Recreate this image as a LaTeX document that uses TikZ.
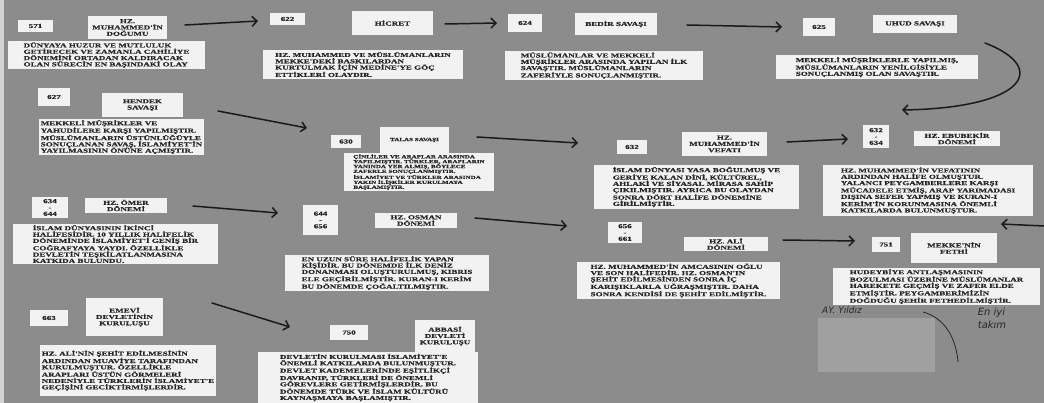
\documentclass[tikz,border=0pt]{standalone}
\usepackage{fontspec}
\usetikzlibrary{arrows.meta}
\newfontfamily\pf[FakeStretch=1.5,FakeBold=0.6]{Liberation Serif}
\newfontfamily\hand{DejaVu Sans}
\definecolor{bg}{HTML}{8C8C8C}
\definecolor{paper}{HTML}{F2F2F2}
\definecolor{ink}{HTML}{262626}
\definecolor{arrowc}{HTML}{1A1A1A}
\definecolor{patch}{HTML}{A0A0A0}
\newcommand\slipbox[7]{%
  \pgfmathsetmacro\slcx{(#3+#5)/2}%
  \pgfmathsetmacro\slcy{(#4+#6)/2}%
  \pgfmathsetmacro\slw{#5-#3}%
  \pgfmathsetmacro\slh{#6-#4}%
  \node[slip,#2,minimum width=\slw pt,minimum height=\slh pt] (#1) at (\slcx,\slcy) {#7};%
}
\begin{document}
\begin{tikzpicture}[x=1pt,y=-1pt,
  slip/.style={fill=paper, text=ink, inner sep=1.5pt, align=center,
    font={\pf\bfseries\fontsize{6}{6.3}\selectfont}},
  desc/.style={align=left},
  tiny/.style={font={\pf\bfseries\fontsize{4.7}{4.9}\selectfont}},
  arr/.style={-{Straight Barb[length=5pt,width=10pt]}, line width=1.5pt, draw=arrowc, line cap=round},
]
\useasboundingbox (0,0) rectangle (1044,403);
\fill[bg] (0,0) rectangle (1044,403);
\fill[paper!70!bg] (0,0) rectangle (4,403);

% ---- Row 1
\slipbox{n571}{}{18}{20}{53}{32}{571}
\slipbox{t571}{}{88}{16}{167}{39}{HZ.\\MUHAMMED'İN\\DOĞUMU}
\slipbox{d571}{desc}{8}{42}{205}{68}{DÜNYAYA HUZUR VE MUTLULUK\\GETİRECEK VE ZAMANLA CAHİLİYE\\DÖNEMİNİ ORTADAN KALDIRACAK\\OLAN SÜRECİN EN BAŞINDAKİ OLAY}
\slipbox{n622}{}{270}{13}{305}{25}{622}
\slipbox{t622}{}{352}{11}{433}{35}{HİCRET}
\slipbox{d622}{desc}{263}{52}{463}{77}{HZ. MUHAMMED VE MÜSLÜMANLARIN\\MEKKE'DEKİ BASKILARDAN\\KURTULMAK İÇİN MEDİNE'YE GÖÇ\\ETTİKLERİ OLAYDIR.}
\slipbox{n624}{}{508}{14}{542}{32}{624}
\slipbox{t624}{}{575}{13}{657}{35}{BEDİR SAVAŞI}
\slipbox{d624}{desc}{505}{52}{703}{79}{MÜSLÜMANLAR VE MEKKELİ\\MÜŞRİKLER ARASINDA YAPILAN İLK\\SAVAŞTIR. MÜSLÜMANLARIN\\ZAFERİYLE SONUÇLANMIŞTIR.}
\slipbox{n625}{}{803}{18}{835}{36}{625}
\slipbox{t625}{}{873}{15}{957}{33}{UHUD SAVAŞI}
\slipbox{d625}{desc}{776}{57}{978}{77}{MEKKELİ MÜŞRİKLERLE YAPILMIŞ,\\MÜSLÜMANLARIN YENİLGİSİYLE\\SONUÇLANMIŞ OLAN SAVAŞTIR.}

% ---- Row 2
\slipbox{n627}{}{38}{88}{70}{106}{627}
\slipbox{t627}{}{102}{93}{183}{117}{HENDEK\\SAVAŞI}
\slipbox{d627}{desc}{40}{123}{203}{151}{MEKKELİ MÜŞRİKLER VE\\YAHUDİLERE KARŞI YAPILMIŞTIR.\\MÜSLÜMANLARIN ÜSTÜNLÜĞÜYLE\\SONUÇLANAN SAVAŞ, İSLAMİYET'İN\\YAYILMASININ ÖNÜNE AÇMIŞTIR.}
\slipbox{n630}{}{331}{135}{361}{148}{630}
\slipbox{t630}{tiny}{380}{127}{449}{153}{TALAS SAVAŞI}
\slipbox{d630}{desc,tiny}{344}{155}{494}{189}{ÇİNLİLER VE ARAPLAR ARASINDA\\YAPILMIŞTIR. TÜRKLER, ARAPLARIN\\YANINDA YER ALMIŞ, BÖYLECE\\ZAFERLE SONUÇLANMIŞTIR.\\İSLAMİYET VE TÜRKLER ARASINDA\\YAKIN İLİŞKİLER KURULMAYA\\BAŞLAMIŞTIR.}
\slipbox{n632}{}{617}{140}{647}{154}{632}
\slipbox{t632}{}{682}{132}{767}{156}{HZ.\\MUHAMMED'İN\\VEFATI}
\slipbox{d632}{desc}{594}{169}{799}{205}{İSLAM DÜNYASI YASA BOĞULMUŞ VE\\GERİYE KALAN DİNİ, KÜLTÜREL,\\AHLAKİ VE SİYASAL MİRASA SAHİP\\ÇIKILMIŞTIR. AYRICA BU OLAYDAN\\SONRA DÖRT HALİFE DÖNEMİNE\\GİRİLMİŞTİR.}
\slipbox{n634a}{}{863}{125}{889}{148}{632\\-\\634}
\slipbox{t634a}{}{914}{131}{1000}{146}{HZ. EBUBEKİR\\DÖNEMİ}
\slipbox{d634a}{desc}{823}{165}{1033}{216}{HZ. MUHAMMED'İN VEFATININ\\ARDINDAN HALİFE OLMUŞTUR.\\YALANCI PEYGAMBERLERE KARŞI\\MÜCADELE ETMİŞ, ARAP YARIMADASI\\DIŞINA SEFER YAPMIŞ VE KURAN-I\\KERİM'İN KORUNMASINA ÖNEMLİ\\KATKILARDA BULUNMUŞTUR.}

% ---- Row 3
\slipbox{n644a}{}{32}{197}{68}{218}{634\\-\\644}
\slipbox{t644a}{}{85}{198}{167}{213}{HZ. ÖMER\\DÖNEMİ}
\slipbox{d644a}{desc}{13}{226}{218}{262}{İSLAM DÜNYASININ İKİNCİ\\HALİFESİDİR. 10 YILLIK HALİFELİK\\DÖNEMİNDE İSLAMİYET'İ GENİŞ BİR\\COĞRAFYAYA YAYDI. ÖZELLİKLE\\DEVLETİN TEŞKİLATLANMASINA\\KATKIDA BULUNDU.}
\slipbox{n656a}{}{303}{205}{338}{235}{644\\-\\656}
\slipbox{t656a}{}{375}{213}{457}{228}{HZ. OSMAN\\DÖNEMİ}
\slipbox{d656a}{desc}{285}{257}{489}{289}{EN UZUN SÜRE HALİFELİK YAPAN\\KİŞİDİR. BU DÖNEMDE İLK DENİZ\\DONANMASI OLUŞTURULMUŞ, KIBRIS\\ELE GEÇİRİLMİŞTİR. KURAN-I KERİM\\BU DÖNEMDE ÇOĞALTILMIŞTIR.}
\slipbox{n661}{}{608}{222}{642}{243}{656\\-\\661}
\slipbox{t661}{}{684}{237}{768}{251}{HZ. ALİ\\DÖNEMİ}
\slipbox{d661}{desc}{577}{265}{780}{296}{HZ. MUHAMMED'İN AMCASININ OĞLU\\VE SON HALİFEDİR. HZ. OSMAN'IN\\ŞEHİT EDİLMESİNDEN SONRA İÇ\\KARIŞIKLARLA UĞRAŞMIŞTIR. DAHA\\SONRA KENDİSİ DE ŞEHİT EDİLMİŞTİR.}
\slipbox{n751}{}{872}{237}{900}{252}{751}
\slipbox{t751}{}{911}{233}{997}{263}{MEKKE'NİN\\FETHİ}
\slipbox{d751}{desc}{833}{271}{1040}{302}{HUDEYBİYE ANTLAŞMASININ\\BOZULMASI ÜZERİNE MÜSLÜMANLAR\\HAREKETE GEÇMİŞ VE ZAFER ELDE\\ETMİŞTİR. PEYGAMBERİMİZİN\\DOĞDUĞU ŞEHİR FETHEDİLMİŞTİR.}

% ---- Row 4
\slipbox{n663}{}{30}{310}{68}{326}{663}
\slipbox{t663}{}{86}{298}{163}{336}{EMEVİ\\DEVLETİNİN\\KURULUŞU}
\slipbox{d663}{desc}{40}{345}{216}{396}{HZ. ALİ'NİN ŞEHİT EDİLMESİNİN\\ARDINDAN MUAVİYE TARAFINDAN\\KURULMUŞTUR. ÖZELLİKLE\\ARAPLARI ÜSTÜN GÖRMELERİ\\NEDENİYLE TÜRKLERİN İSLAMİYET'E\\GEÇİŞİNİ GECİKTİRMİŞLERDİR.}
\slipbox{n750}{}{330}{325}{368}{340}{750}
\slipbox{t750}{}{415}{320}{475}{352}{ABBASİ\\DEVLETİ\\KURULUŞU}
\slipbox{d750}{desc}{258}{355}{478}{400}{DEVLETİN KURULMASI İSLAMİYET'E\\ÖNEMLİ KATKILARDA BULUNMUŞTUR.\\DEVLET KADEMELERİNDE EŞİTLİKÇİ\\DAVRANIP, TÜRKLERİ DE ÖNEMLİ\\GÖREVLERE GETİRMİŞLERDİR. BU\\DÖNEMDE TÜRK VE İSLAM KÜLTÜRÜ\\KAYNAŞMAYA BAŞLAMIŞTIR.}

% handwritten corner
\fill[patch] (818,318) rectangle (935,372);
\node[text=ink, font={\hand\itshape\fontsize{9}{10}\selectfont}, inner sep=0pt, anchor=west] (sign) at (822,310) {AY. Yıldız};
\node[text=ink, font={\hand\itshape\fontsize{10}{13}\selectfont}, inner sep=0pt, align=left] (motto) at (992,318) {En iyi\\takım};
\coordinate (c1) at (923,312);
\coordinate (c2) at (958,362);
\draw[ink, line width=0.8pt] (c1) .. controls (945,318) and (956,338) .. (c2);

% ---- arrows (free-standing between slips)
\coordinate (a1s) at (185,25);  \coordinate (a1e) at (258,21);
\coordinate (a2s) at (445,24);  \coordinate (a2e) at (497,23);
\coordinate (a3s) at (687,25);  \coordinate (a3e) at (782,27);
\coordinate (a4s) at (985,43);  \coordinate (a4e) at (902,110);
\coordinate (a5s) at (218,111); \coordinate (a5e) at (307,128);
\coordinate (a6s) at (477,137); \coordinate (a6e) at (578,143);
\coordinate (a7s) at (787,142); \coordinate (a7e) at (848,139);
\coordinate (a8s) at (1044,226);\coordinate (a8e) at (1001,224);
\coordinate (a9s) at (193,206); \coordinate (a9e) at (278,213);
\coordinate (a10s) at (475,218);\coordinate (a10e) at (567,226);
\coordinate (a11s) at (783,240);\coordinate (a11e) at (855,241);
\coordinate (a12s) at (212,303);\coordinate (a12e) at (290,327);

\draw[arr] (a1s) -- (a1e);
\draw[arr] (a2s) -- (a2e);
\draw[arr] (a3s) -- (a3e);
\draw[arr] (a4s) .. controls (1050,68) and (1025,108) .. (a4e);
\draw[arr] (a5s) -- (a5e);
\draw[arr] (a6s) -- (a6e);
\draw[arr] (a7s) -- (a7e);
\draw[arr] (a8s) -- (a8e);
\draw[arr] (a9s) -- (a9e);
\draw[arr] (a10s) -- (a10e);
\draw[arr] (a11s) -- (a11e);
\draw[arr] (a12s) -- (a12e);
\end{tikzpicture}
\end{document}
